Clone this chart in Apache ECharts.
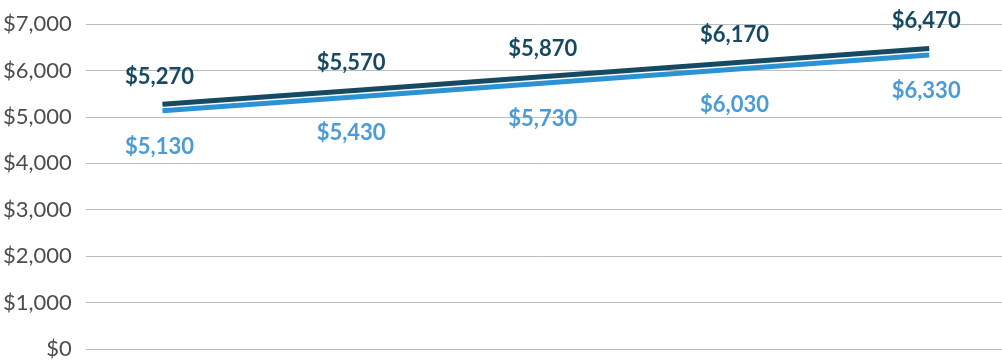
<!DOCTYPE html>
<html><head><meta charset="utf-8">
<script src="https://cdn.jsdelivr.net/npm/echarts@6/dist/echarts.min.js"></script>
<style>html,body{margin:0;padding:0;background:#fff}#c{width:1002px;height:360px}</style>
</head><body><div id="c"></div>
<script>
const categories = ['1', '2', '3', '4', '5'];
const seriesDark = [5270, 5570, 5870, 6170, 6470];
const seriesLight = [5130, 5430, 5730, 6030, 6330];
const yTicks = [0, 1000, 2000, 3000, 4000, 5000, 6000, 7000];

const fmt = v => '$' + v.toLocaleString('en-US');
const chart = echarts.init(document.getElementById('c'));
chart.setOption({
  animation: false,
  grid: {left: 82, right: 0, top: 24, bottom: 11},
  xAxis: {type: 'value', min: -0.4, max: 4.38, show: false},
  yAxis: {type: 'value', min: yTicks[0], max: yTicks[yTicks.length-1], interval: 1000,
    axisLine: {show: false}, axisTick: {show: false},
    axisLabel: {formatter: fmt, fontFamily: 'Lato', fontSize: 22, color: '#4d4d4d', margin: 14},
    splitLine: {lineStyle: {color: '#bdbdbd', width: 1}}},
  series: [
    {type: 'line', data: seriesDark.map((v,i)=>[i,v]), symbol: 'circle', symbolSize: 0.5, showSymbol: true,
     itemStyle: {color: '#164a62'},
     lineStyle: {color: '#164a62', width: 5},
     label: {show: true, position: 'top', distance: 16, offset: [-3, 0], formatter: p => fmt(p.value[1]),
       fontFamily: 'Lato', fontWeight: 'bold', fontSize: 22, color: '#164a62'}},
    {type: 'line', data: seriesLight.map((v,i)=>[i,v]), symbol: 'circle', symbolSize: 0.5, showSymbol: true,
     itemStyle: {color: '#2b93d3'},
     lineStyle: {color: '#2b93d3', width: 5},
     label: {show: true, position: 'bottom', distance: 25, offset: [-3, 0], formatter: p => fmt(p.value[1]),
       fontFamily: 'Lato', fontWeight: 'bold', fontSize: 22, color: '#4a9bd6'}}
  ]
});
</script></body></html>
